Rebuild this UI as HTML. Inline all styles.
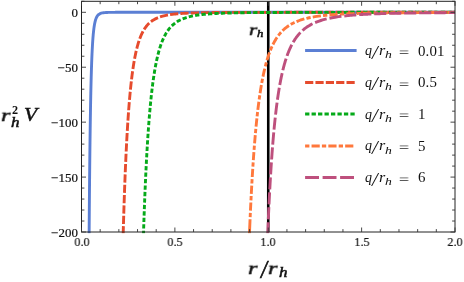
<!DOCTYPE html>
<html><head><meta charset="utf-8"><title>Chart</title><style>
html,body{margin:0;padding:0;background:#fff}
#w{position:relative;width:464px;height:282px;overflow:hidden;background:#fff;font-family:"Liberation Serif",serif;color:#111}
.t{position:absolute;white-space:nowrap;line-height:1;will-change:transform}
.yl{font-size:12.2px;text-align:right;width:60px;-webkit-text-stroke:0.2px #111;transform:scaleX(1.06);transform-origin:100% 50%}
.xl{font-size:12.8px;text-align:center;width:40px;-webkit-text-stroke:0.2px #111;transform:scaleX(0.95);transform-origin:50% 50%}
.lg{font-size:12.5px;font-style:italic}
.lg .n{font-style:normal}
.lg .s{font-size:8.8px;position:relative;top:2.2px}
.b{font-weight:bold;font-style:italic}

</style></head><body><div id="w">
<svg width="464" height="282" viewBox="0 0 464 282" style="position:absolute;left:0;top:0">
<defs><clipPath id="c"><rect x="81.5" y="1.3" width="373.5" height="232.0"/></clipPath></defs>
<line x1="268.25" y1="1.3" x2="268.25" y2="232.0" stroke="#000" stroke-width="2.6"/>
<g clip-path="url(#c)" fill="none" stroke-width="2.9" stroke-linejoin="round">
<path d="M89.13,233.50 L89.14,232.95 L89.14,232.41 L89.14,231.86 L89.15,231.32 L89.15,230.77 L89.16,230.22 L89.16,229.68 L89.16,229.13 L89.17,228.58 L89.17,228.04 L89.18,227.49 L89.18,226.95 L89.18,226.40 L89.19,225.85 L89.19,225.31 L89.20,224.76 L89.20,224.22 L89.21,223.67 L89.21,223.12 L89.21,222.58 L89.22,222.03 L89.22,221.48 L89.23,220.94 L89.23,220.39 L89.23,219.85 L89.24,219.30 L89.24,218.75 L89.25,218.21 L89.25,217.66 L89.26,217.12 L89.26,216.57 L89.26,216.02 L89.27,215.48 L89.27,214.93 L89.28,214.38 L89.28,213.84 L89.29,213.29 L89.29,212.75 L89.29,212.20 L89.30,211.65 L89.30,211.11 L89.31,210.56 L89.31,210.02 L89.32,209.47 L89.32,208.92 L89.33,208.38 L89.33,207.83 L89.33,207.29 L89.34,206.74 L89.34,206.19 L89.35,205.65 L89.35,205.10 L89.36,204.55 L89.36,204.01 L89.37,203.46 L89.37,202.92 L89.38,202.37 L89.38,201.82 L89.39,201.28 L89.39,200.73 L89.39,200.19 L89.40,199.64 L89.40,199.09 L89.41,198.55 L89.41,198.00 L89.42,197.45 L89.42,196.91 L89.43,196.36 L89.43,195.82 L89.44,195.27 L89.44,194.72 L89.45,194.18 L89.45,193.63 L89.46,193.09 L89.46,192.54 L89.47,191.99 L89.47,191.45 L89.48,190.90 L89.48,190.35 L89.49,189.81 L89.49,189.26 L89.50,188.72 L89.50,188.17 L89.51,187.62 L89.51,187.08 L89.52,186.53 L89.52,185.99 L89.53,185.44 L89.53,184.89 L89.54,184.35 L89.54,183.80 L89.55,183.25 L89.55,182.71 L89.56,182.16 L89.56,181.62 L89.57,181.07 L89.57,180.52 L89.58,179.98 L89.58,179.43 L89.59,178.89 L89.60,178.34 L89.60,177.79 L89.61,177.25 L89.61,176.70 L89.62,176.15 L89.62,175.61 L89.63,175.06 L89.63,174.52 L89.64,173.97 L89.64,173.42 L89.65,172.88 L89.66,172.33 L89.66,171.79 L89.67,171.24 L89.67,170.69 L89.68,170.15 L89.68,169.60 L89.69,169.05 L89.70,168.51 L89.70,167.96 L89.71,167.42 L89.71,166.87 L89.72,166.32 L89.72,165.78 L89.73,165.23 L89.74,164.69 L89.74,164.14 L89.75,163.59 L89.75,163.05 L89.76,162.50 L89.77,161.95 L89.77,161.41 L89.78,160.86 L89.78,160.32 L89.79,159.77 L89.80,159.22 L89.80,158.68 L89.81,158.13 L89.81,157.59 L89.82,157.04 L89.83,156.49 L89.83,155.95 L89.84,155.40 L89.85,154.86 L89.85,154.31 L89.86,153.76 L89.87,153.22 L89.87,152.67 L89.88,152.12 L89.88,151.58 L89.89,151.03 L89.90,150.49 L89.90,149.94 L89.91,149.39 L89.92,148.85 L89.92,148.30 L89.93,147.76 L89.94,147.21 L89.94,146.66 L89.95,146.12 L89.96,145.57 L89.96,145.02 L89.97,144.48 L89.98,143.93 L89.99,143.39 L89.99,142.84 L90.00,142.29 L90.01,141.75 L90.01,141.20 L90.02,140.66 L90.03,140.11 L90.03,139.56 L90.04,139.02 L90.05,138.47 L90.06,137.92 L90.06,137.38 L90.07,136.83 L90.08,136.29 L90.09,135.74 L90.09,135.19 L90.10,134.65 L90.11,134.10 L90.12,133.56 L90.12,133.01 L90.13,132.46 L90.14,131.92 L90.15,131.37 L90.15,130.82 L90.16,130.28 L90.17,129.73 L90.18,129.19 L90.19,128.64 L90.19,128.09 L90.20,127.55 L90.21,127.00 L90.22,126.46 L90.23,125.91 L90.23,125.36 L90.24,124.82 L90.25,124.27 L90.26,123.72 L90.27,123.18 L90.28,122.63 L90.28,122.09 L90.29,121.54 L90.30,120.99 L90.31,120.45 L90.32,119.90 L90.33,119.36 L90.34,118.81 L90.34,118.26 L90.35,117.72 L90.36,117.17 L90.37,116.62 L90.38,116.08 L90.39,115.53 L90.40,114.99 L90.41,114.44 L90.42,113.89 L90.43,113.35 L90.43,112.80 L90.44,112.26 L90.45,111.71 L90.46,111.16 L90.47,110.62 L90.48,110.07 L90.49,109.53 L90.50,108.98 L90.51,108.43 L90.52,107.89 L90.53,107.34 L90.54,106.79 L90.55,106.25 L90.56,105.70 L90.57,105.16 L90.58,104.61 L90.59,104.06 L90.60,103.52 L90.61,102.97 L90.62,102.43 L90.63,101.88 L90.64,101.33 L90.65,100.79 L90.66,100.24 L90.68,99.69 L90.69,99.15 L90.70,98.60 L90.71,98.06 L90.72,97.51 L90.73,96.96 L90.74,96.42 L90.75,95.87 L90.76,95.33 L90.78,94.78 L90.79,94.23 L90.80,93.69 L90.81,93.14 L90.82,92.59 L90.84,92.05 L90.85,91.50 L90.86,90.96 L90.87,90.41 L90.88,89.86 L90.90,89.32 L90.91,88.77 L90.92,88.23 L90.93,87.68 L90.95,87.13 L90.96,86.59 L90.97,86.04 L90.99,85.49 L91.00,84.95 L91.01,84.40 L91.03,83.86 L91.04,83.31 L91.05,82.76 L91.07,82.22 L91.08,81.67 L91.10,81.13 L91.11,80.58 L91.12,80.03 L91.14,79.49 L91.15,78.94 L91.17,78.39 L91.18,77.85 L91.20,77.30 L91.21,76.76 L91.23,76.21 L91.24,75.66 L91.26,75.12 L91.27,74.57 L91.29,74.03 L91.31,73.48 L91.32,72.93 L91.34,72.39 L91.36,71.84 L91.37,71.29 L91.39,70.75 L91.41,70.20 L91.42,69.66 L91.44,69.11 L91.46,68.56 L91.48,68.02 L91.49,67.47 L91.51,66.93 L91.53,66.38 L91.55,65.83 L91.57,65.29 L91.59,64.74 L91.61,64.19 L91.62,63.65 L91.64,63.10 L91.66,62.56 L91.68,62.01 L91.70,61.46 L91.73,60.92 L91.75,60.37 L91.77,59.83 L91.79,59.28 L91.81,58.73 L91.83,58.19 L91.85,57.64 L91.88,57.10 L91.90,56.55 L91.92,56.00 L91.95,55.46 L91.97,54.91 L92.00,54.36 L92.02,53.82 L92.04,53.27 L92.07,52.73 L92.10,52.18 L92.12,51.63 L92.15,51.09 L92.18,50.54 L92.20,50.00 L92.23,49.45 L92.26,48.90 L92.29,48.36 L92.32,47.81 L92.35,47.26 L92.38,46.72 L92.41,46.17 L92.44,45.63 L92.47,45.08 L92.50,44.53 L92.54,43.99 L92.57,43.44 L92.60,42.90 L92.64,42.35 L92.67,41.80 L92.71,41.26 L92.75,40.71 L92.79,40.16 L92.83,39.62 L92.87,39.07 L92.91,38.53 L92.95,37.98 L92.99,37.43 L93.04,36.89 L93.08,36.34 L93.13,35.80 L93.17,35.25 L93.22,34.70 L93.27,34.16 L93.32,33.61 L93.38,33.06 L93.43,32.52 L93.49,31.97 L93.54,31.43 L93.60,30.88 L93.67,30.33 L93.73,29.79 L93.80,29.24 L93.86,28.70 L93.94,28.15 L94.01,27.60 L94.09,27.06 L94.17,26.51 L94.25,25.96 L94.34,25.42 L94.43,24.87 L94.53,24.33 L94.63,23.78 L94.74,23.23 L94.85,22.69 L94.97,22.14 L95.10,21.60 L95.23,21.05 L95.38,20.50 L95.54,19.96 L95.71,19.41 L95.90,18.86 L96.10,18.32 L96.33,17.77 L96.59,17.23 L96.87,16.68 L97.21,16.13 L97.60,15.59 L98.80,14.39 L100.01,13.66 L101.22,13.21 L102.42,12.92 L103.63,12.73 L104.83,12.60 L106.04,12.52 L107.24,12.46 L108.45,12.42 L109.66,12.39 L110.86,12.37 L112.07,12.35 L113.27,12.34 L114.48,12.33 L115.69,12.32 L116.89,12.32 L118.10,12.32 L119.30,12.31 L120.51,12.31 L121.71,12.31 L122.92,12.31 L124.13,12.31 L125.33,12.30 L126.54,12.30 L127.74,12.30 L128.95,12.30 L130.15,12.30 L131.36,12.30 L132.57,12.30 L133.77,12.30 L134.98,12.30 L136.18,12.30 L137.39,12.30 L138.60,12.30 L139.80,12.30 L141.01,12.30 L142.21,12.30 L143.42,12.30 L144.62,12.30 L145.83,12.30 L147.04,12.30 L148.24,12.30 L149.45,12.30 L150.65,12.30 L151.86,12.30 L153.06,12.30 L154.27,12.30 L155.48,12.30 L156.68,12.30 L157.89,12.30 L159.09,12.30 L160.30,12.30 L161.51,12.30 L162.71,12.30 L163.92,12.30 L165.12,12.30 L166.33,12.30 L167.53,12.30 L168.74,12.30 L169.95,12.30 L171.15,12.30 L172.36,12.30 L173.56,12.30 L174.77,12.30 L175.97,12.30 L177.18,12.30 L178.39,12.30 L179.59,12.30 L180.80,12.30 L182.00,12.30 L183.21,12.30 L184.42,12.30 L185.62,12.30 L186.83,12.30 L188.03,12.30 L189.24,12.30 L190.44,12.30 L191.65,12.30 L192.86,12.30 L194.06,12.30 L195.27,12.30 L196.47,12.30 L197.68,12.30 L198.88,12.30 L200.09,12.30 L201.30,12.30 L202.50,12.30 L203.71,12.30 L204.91,12.30 L206.12,12.30 L207.32,12.30 L208.53,12.30 L209.74,12.30 L210.94,12.30 L212.15,12.30 L213.35,12.30 L214.56,12.30 L215.77,12.30 L216.97,12.30 L218.18,12.30 L219.38,12.30 L220.59,12.30 L221.79,12.30 L223.00,12.30 L224.21,12.30 L225.41,12.30 L226.62,12.30 L227.82,12.30 L229.03,12.30 L230.23,12.30 L231.44,12.30 L232.65,12.30 L233.85,12.30 L235.06,12.30 L236.26,12.30 L237.47,12.30 L238.68,12.30 L239.88,12.30 L241.09,12.30 L242.29,12.30 L243.50,12.30 L244.70,12.30 L245.91,12.30 L247.12,12.30 L248.32,12.30 L249.53,12.30 L250.73,12.30 L251.94,12.30 L253.14,12.30 L254.35,12.30 L255.56,12.30 L256.76,12.30 L257.97,12.30 L259.17,12.30 L260.38,12.30 L261.59,12.30 L262.79,12.30 L264.00,12.30 L265.20,12.30 L266.41,12.30 L267.61,12.30 L268.82,12.30 L270.03,12.30 L271.23,12.30 L272.44,12.30 L273.64,12.30 L274.85,12.30 L276.05,12.30 L277.26,12.30 L278.47,12.30 L279.67,12.30 L280.88,12.30 L282.08,12.30 L283.29,12.30 L284.50,12.30 L285.70,12.30 L286.91,12.30 L288.11,12.30 L289.32,12.30 L290.52,12.30 L291.73,12.30 L292.94,12.30 L294.14,12.30 L295.35,12.30 L296.55,12.30 L297.76,12.30 L298.96,12.30 L300.17,12.30 L301.38,12.30 L302.58,12.30 L303.79,12.30 L304.99,12.30 L306.20,12.30 L307.41,12.30 L308.61,12.30 L309.82,12.30 L311.02,12.30 L312.23,12.30 L313.43,12.30 L314.64,12.30 L315.85,12.30 L317.05,12.30 L318.26,12.30 L319.46,12.30 L320.67,12.30 L321.87,12.30 L323.08,12.30 L324.29,12.30 L325.49,12.30 L326.70,12.30 L327.90,12.30 L329.11,12.30 L330.31,12.30 L331.52,12.30 L332.73,12.30 L333.93,12.30 L335.14,12.30 L336.34,12.30 L337.55,12.30 L338.76,12.30 L339.96,12.30 L341.17,12.30 L342.37,12.30 L343.58,12.30 L344.78,12.30 L345.99,12.30 L347.20,12.30 L348.40,12.30 L349.61,12.30 L350.81,12.30 L352.02,12.30 L353.22,12.30 L354.43,12.30 L355.64,12.30 L356.84,12.30 L358.05,12.30 L359.25,12.30 L360.46,12.30 L361.67,12.30 L362.87,12.30 L364.08,12.30 L365.28,12.30 L366.49,12.30 L367.69,12.30 L368.90,12.30 L370.11,12.30 L371.31,12.30 L372.52,12.30 L373.72,12.30 L374.93,12.30 L376.13,12.30 L377.34,12.30 L378.55,12.30 L379.75,12.30 L380.96,12.30 L382.16,12.30 L383.37,12.30 L384.58,12.30 L385.78,12.30 L386.99,12.30 L388.19,12.30 L389.40,12.30 L390.60,12.30 L391.81,12.30 L393.02,12.30 L394.22,12.30 L395.43,12.30 L396.63,12.30 L397.84,12.30 L399.04,12.30 L400.25,12.30 L401.46,12.30 L402.66,12.30 L403.87,12.30 L405.07,12.30 L406.28,12.30 L407.49,12.30 L408.69,12.30 L409.90,12.30 L411.10,12.30 L412.31,12.30 L413.51,12.30 L414.72,12.30 L415.93,12.30 L417.13,12.30 L418.34,12.30 L419.54,12.30 L420.75,12.30 L421.95,12.30 L423.16,12.30 L424.37,12.30 L425.57,12.30 L426.78,12.30 L427.98,12.30 L429.19,12.30 L430.39,12.30 L431.60,12.30 L432.81,12.30 L434.01,12.30 L435.22,12.30 L436.42,12.30 L437.63,12.30 L438.84,12.30 L440.04,12.30 L441.25,12.30 L442.45,12.30 L443.66,12.30 L444.86,12.30 L446.07,12.30 L447.28,12.30 L448.48,12.30 L449.69,12.30 L450.89,12.30 L452.10,12.30 L453.30,12.30 L454.51,12.30 L455.72,12.30 L456.92,12.30 L458.13,12.30" stroke="#5B7FD4"/>
<path d="M123.19,233.50 L123.21,232.95 L123.22,232.41 L123.24,231.86 L123.26,231.32 L123.27,230.77 L123.29,230.22 L123.30,229.68 L123.32,229.13 L123.33,228.58 L123.35,228.04 L123.36,227.49 L123.38,226.95 L123.39,226.40 L123.41,225.85 L123.43,225.31 L123.44,224.76 L123.46,224.22 L123.47,223.67 L123.49,223.12 L123.51,222.58 L123.52,222.03 L123.54,221.48 L123.55,220.94 L123.57,220.39 L123.59,219.85 L123.60,219.30 L123.62,218.75 L123.64,218.21 L123.65,217.66 L123.67,217.12 L123.69,216.57 L123.70,216.02 L123.72,215.48 L123.74,214.93 L123.75,214.38 L123.77,213.84 L123.79,213.29 L123.80,212.75 L123.82,212.20 L123.84,211.65 L123.85,211.11 L123.87,210.56 L123.89,210.02 L123.91,209.47 L123.92,208.92 L123.94,208.38 L123.96,207.83 L123.98,207.29 L123.99,206.74 L124.01,206.19 L124.03,205.65 L124.05,205.10 L124.07,204.55 L124.08,204.01 L124.10,203.46 L124.12,202.92 L124.14,202.37 L124.16,201.82 L124.17,201.28 L124.19,200.73 L124.21,200.19 L124.23,199.64 L124.25,199.09 L124.27,198.55 L124.29,198.00 L124.30,197.45 L124.32,196.91 L124.34,196.36 L124.36,195.82 L124.38,195.27 L124.40,194.72 L124.42,194.18 L124.44,193.63 L124.46,193.09 L124.48,192.54 L124.50,191.99 L124.52,191.45 L124.53,190.90 L124.55,190.35 L124.57,189.81 L124.59,189.26 L124.61,188.72 L124.63,188.17 L124.65,187.62 L124.67,187.08 L124.69,186.53 L124.71,185.99 L124.73,185.44 L124.76,184.89 L124.78,184.35 L124.80,183.80 L124.82,183.25 L124.84,182.71 L124.86,182.16 L124.88,181.62 L124.90,181.07 L124.92,180.52 L124.94,179.98 L124.96,179.43 L124.99,178.89 L125.01,178.34 L125.03,177.79 L125.05,177.25 L125.07,176.70 L125.09,176.15 L125.12,175.61 L125.14,175.06 L125.16,174.52 L125.18,173.97 L125.20,173.42 L125.23,172.88 L125.25,172.33 L125.27,171.79 L125.29,171.24 L125.32,170.69 L125.34,170.15 L125.36,169.60 L125.38,169.05 L125.41,168.51 L125.43,167.96 L125.45,167.42 L125.48,166.87 L125.50,166.32 L125.52,165.78 L125.55,165.23 L125.57,164.69 L125.60,164.14 L125.62,163.59 L125.64,163.05 L125.67,162.50 L125.69,161.95 L125.72,161.41 L125.74,160.86 L125.77,160.32 L125.79,159.77 L125.82,159.22 L125.84,158.68 L125.87,158.13 L125.89,157.59 L125.92,157.04 L125.94,156.49 L125.97,155.95 L125.99,155.40 L126.02,154.86 L126.04,154.31 L126.07,153.76 L126.10,153.22 L126.12,152.67 L126.15,152.12 L126.18,151.58 L126.20,151.03 L126.23,150.49 L126.26,149.94 L126.28,149.39 L126.31,148.85 L126.34,148.30 L126.37,147.76 L126.39,147.21 L126.42,146.66 L126.45,146.12 L126.48,145.57 L126.51,145.02 L126.53,144.48 L126.56,143.93 L126.59,143.39 L126.62,142.84 L126.65,142.29 L126.68,141.75 L126.71,141.20 L126.74,140.66 L126.76,140.11 L126.79,139.56 L126.82,139.02 L126.85,138.47 L126.88,137.92 L126.91,137.38 L126.95,136.83 L126.98,136.29 L127.01,135.74 L127.04,135.19 L127.07,134.65 L127.10,134.10 L127.13,133.56 L127.16,133.01 L127.19,132.46 L127.23,131.92 L127.26,131.37 L127.29,130.82 L127.32,130.28 L127.36,129.73 L127.39,129.19 L127.42,128.64 L127.46,128.09 L127.49,127.55 L127.52,127.00 L127.56,126.46 L127.59,125.91 L127.62,125.36 L127.66,124.82 L127.69,124.27 L127.73,123.72 L127.76,123.18 L127.80,122.63 L127.83,122.09 L127.87,121.54 L127.91,120.99 L127.94,120.45 L127.98,119.90 L128.01,119.36 L128.05,118.81 L128.09,118.26 L128.13,117.72 L128.16,117.17 L128.20,116.62 L128.24,116.08 L128.28,115.53 L128.32,114.99 L128.35,114.44 L128.39,113.89 L128.43,113.35 L128.47,112.80 L128.51,112.26 L128.55,111.71 L128.59,111.16 L128.63,110.62 L128.67,110.07 L128.71,109.53 L128.76,108.98 L128.80,108.43 L128.84,107.89 L128.88,107.34 L128.92,106.79 L128.97,106.25 L129.01,105.70 L129.05,105.16 L129.10,104.61 L129.14,104.06 L129.19,103.52 L129.23,102.97 L129.28,102.43 L129.32,101.88 L129.37,101.33 L129.41,100.79 L129.46,100.24 L129.51,99.69 L129.55,99.15 L129.60,98.60 L129.65,98.06 L129.70,97.51 L129.75,96.96 L129.80,96.42 L129.84,95.87 L129.89,95.33 L129.94,94.78 L130.00,94.23 L130.05,93.69 L130.10,93.14 L130.15,92.59 L130.20,92.05 L130.25,91.50 L130.31,90.96 L130.36,90.41 L130.42,89.86 L130.47,89.32 L130.53,88.77 L130.58,88.23 L130.64,87.68 L130.69,87.13 L130.75,86.59 L130.81,86.04 L130.87,85.49 L130.92,84.95 L130.98,84.40 L131.04,83.86 L131.10,83.31 L131.16,82.76 L131.23,82.22 L131.29,81.67 L131.35,81.13 L131.41,80.58 L131.48,80.03 L131.54,79.49 L131.61,78.94 L131.67,78.39 L131.74,77.85 L131.81,77.30 L131.87,76.76 L131.94,76.21 L132.01,75.66 L132.08,75.12 L132.15,74.57 L132.22,74.03 L132.29,73.48 L132.37,72.93 L132.44,72.39 L132.52,71.84 L132.59,71.29 L132.67,70.75 L132.74,70.20 L132.82,69.66 L132.90,69.11 L132.98,68.56 L133.06,68.02 L133.14,67.47 L133.23,66.93 L133.31,66.38 L133.39,65.83 L133.48,65.29 L133.57,64.74 L133.65,64.19 L133.74,63.65 L133.83,63.10 L133.93,62.56 L134.02,62.01 L134.11,61.46 L134.21,60.92 L134.30,60.37 L134.40,59.83 L134.50,59.28 L134.60,58.73 L134.70,58.19 L134.81,57.64 L134.91,57.10 L135.02,56.55 L135.13,56.00 L135.24,55.46 L135.35,54.91 L135.46,54.36 L135.58,53.82 L135.69,53.27 L135.81,52.73 L135.93,52.18 L136.06,51.63 L136.18,51.09 L136.31,50.54 L136.44,50.00 L136.57,49.45 L136.70,48.90 L136.84,48.36 L136.98,47.81 L137.12,47.26 L137.26,46.72 L137.41,46.17 L137.56,45.63 L137.71,45.08 L137.87,44.53 L138.03,43.99 L138.19,43.44 L138.36,42.90 L138.53,42.35 L138.70,41.80 L138.88,41.26 L139.06,40.71 L139.24,40.16 L139.43,39.62 L139.63,39.07 L139.83,38.53 L140.03,37.98 L140.24,37.43 L140.46,36.89 L140.68,36.34 L140.91,35.80 L141.14,35.25 L141.38,34.70 L141.63,34.16 L141.89,33.61 L142.15,33.06 L142.42,32.52 L142.71,31.97 L143.00,31.43 L143.30,30.88 L143.61,30.33 L143.93,29.79 L144.27,29.24 L144.62,28.70 L144.98,28.15 L145.36,27.60 L145.76,27.06 L146.17,26.51 L146.60,25.96 L147.06,25.42 L147.54,24.87 L148.04,24.33 L148.57,23.78 L149.14,23.23 L149.73,22.69 L150.37,22.14 L151.05,21.60 L151.78,21.05 L152.57,20.50 L153.43,19.96 L154.36,19.41 L155.38,18.86 L156.50,18.32 L157.76,17.77 L159.18,17.23 L160.80,16.68 L162.68,16.13 L164.92,15.59 L165.90,15.38 L166.88,15.18 L167.86,15.00 L168.84,14.84 L169.82,14.68 L170.80,14.54 L171.78,14.41 L172.76,14.28 L173.75,14.17 L174.73,14.06 L175.71,13.96 L176.69,13.87 L177.67,13.78 L178.65,13.70 L179.63,13.62 L180.61,13.55 L181.59,13.49 L182.57,13.42 L183.55,13.36 L184.53,13.31 L185.51,13.26 L186.49,13.21 L187.47,13.16 L188.45,13.12 L189.44,13.08 L190.42,13.04 L191.40,13.01 L192.38,12.97 L193.36,12.94 L194.34,12.91 L195.32,12.88 L196.30,12.86 L197.28,12.83 L198.26,12.81 L199.24,12.78 L200.22,12.76 L201.20,12.74 L202.18,12.72 L203.16,12.70 L204.14,12.69 L205.13,12.67 L206.11,12.65 L207.09,12.64 L208.07,12.63 L209.05,12.61 L210.03,12.60 L211.01,12.59 L211.99,12.58 L212.97,12.56 L213.95,12.55 L214.93,12.54 L215.91,12.53 L216.89,12.53 L217.87,12.52 L218.85,12.51 L219.83,12.50 L220.82,12.49 L221.80,12.49 L222.78,12.48 L223.76,12.47 L224.74,12.47 L225.72,12.46 L226.70,12.45 L227.68,12.45 L228.66,12.44 L229.64,12.44 L230.62,12.43 L231.60,12.43 L232.58,12.42 L233.56,12.42 L234.54,12.42 L235.52,12.41 L236.51,12.41 L237.49,12.40 L238.47,12.40 L239.45,12.40 L240.43,12.39 L241.41,12.39 L242.39,12.39 L243.37,12.39 L244.35,12.38 L245.33,12.38 L246.31,12.38 L247.29,12.37 L248.27,12.37 L249.25,12.37 L250.23,12.37 L251.21,12.37 L252.20,12.36 L253.18,12.36 L254.16,12.36 L255.14,12.36 L256.12,12.36 L257.10,12.35 L258.08,12.35 L259.06,12.35 L260.04,12.35 L261.02,12.35 L262.00,12.35 L262.98,12.35 L263.96,12.34 L264.94,12.34 L265.92,12.34 L266.91,12.34 L267.89,12.34 L268.87,12.34 L269.85,12.34 L270.83,12.34 L271.81,12.34 L272.79,12.33 L273.77,12.33 L274.75,12.33 L275.73,12.33 L276.71,12.33 L277.69,12.33 L278.67,12.33 L279.65,12.33 L280.63,12.33 L281.61,12.33 L282.60,12.33 L283.58,12.33 L284.56,12.33 L285.54,12.32 L286.52,12.32 L287.50,12.32 L288.48,12.32 L289.46,12.32 L290.44,12.32 L291.42,12.32 L292.40,12.32 L293.38,12.32 L294.36,12.32 L295.34,12.32 L296.32,12.32 L297.30,12.32 L298.29,12.32 L299.27,12.32 L300.25,12.32 L301.23,12.32 L302.21,12.32 L303.19,12.32 L304.17,12.32 L305.15,12.31 L306.13,12.31 L307.11,12.31 L308.09,12.31 L309.07,12.31 L310.05,12.31 L311.03,12.31 L312.01,12.31 L312.99,12.31 L313.98,12.31 L314.96,12.31 L315.94,12.31 L316.92,12.31 L317.90,12.31 L318.88,12.31 L319.86,12.31 L320.84,12.31 L321.82,12.31 L322.80,12.31 L323.78,12.31 L324.76,12.31 L325.74,12.31 L326.72,12.31 L327.70,12.31 L328.68,12.31 L329.67,12.31 L330.65,12.31 L331.63,12.31 L332.61,12.31 L333.59,12.31 L334.57,12.31 L335.55,12.31 L336.53,12.31 L337.51,12.31 L338.49,12.31 L339.47,12.31 L340.45,12.31 L341.43,12.31 L342.41,12.31 L343.39,12.31 L344.37,12.31 L345.36,12.31 L346.34,12.31 L347.32,12.31 L348.30,12.31 L349.28,12.31 L350.26,12.31 L351.24,12.31 L352.22,12.31 L353.20,12.31 L354.18,12.31 L355.16,12.31 L356.14,12.30 L357.12,12.30 L358.10,12.30 L359.08,12.30 L360.06,12.30 L361.05,12.30 L362.03,12.30 L363.01,12.30 L363.99,12.30 L364.97,12.30 L365.95,12.30 L366.93,12.30 L367.91,12.30 L368.89,12.30 L369.87,12.30 L370.85,12.30 L371.83,12.30 L372.81,12.30 L373.79,12.30 L374.77,12.30 L375.76,12.30 L376.74,12.30 L377.72,12.30 L378.70,12.30 L379.68,12.30 L380.66,12.30 L381.64,12.30 L382.62,12.30 L383.60,12.30 L384.58,12.30 L385.56,12.30 L386.54,12.30 L387.52,12.30 L388.50,12.30 L389.48,12.30 L390.46,12.30 L391.45,12.30 L392.43,12.30 L393.41,12.30 L394.39,12.30 L395.37,12.30 L396.35,12.30 L397.33,12.30 L398.31,12.30 L399.29,12.30 L400.27,12.30 L401.25,12.30 L402.23,12.30 L403.21,12.30 L404.19,12.30 L405.17,12.30 L406.15,12.30 L407.14,12.30 L408.12,12.30 L409.10,12.30 L410.08,12.30 L411.06,12.30 L412.04,12.30 L413.02,12.30 L414.00,12.30 L414.98,12.30 L415.96,12.30 L416.94,12.30 L417.92,12.30 L418.90,12.30 L419.88,12.30 L420.86,12.30 L421.84,12.30 L422.83,12.30 L423.81,12.30 L424.79,12.30 L425.77,12.30 L426.75,12.30 L427.73,12.30 L428.71,12.30 L429.69,12.30 L430.67,12.30 L431.65,12.30 L432.63,12.30 L433.61,12.30 L434.59,12.30 L435.57,12.30 L436.55,12.30 L437.53,12.30 L438.52,12.30 L439.50,12.30 L440.48,12.30 L441.46,12.30 L442.44,12.30 L443.42,12.30 L444.40,12.30 L445.38,12.30 L446.36,12.30 L447.34,12.30 L448.32,12.30 L449.30,12.30 L450.28,12.30 L451.26,12.30 L452.24,12.30 L453.22,12.30 L454.21,12.30 L455.19,12.30 L456.17,12.30 L457.15,12.30 L458.13,12.30" stroke="#E64B2D" stroke-dasharray="8.2 2.15" stroke-dashoffset="0.8"/>
<path d="M143.49,233.50 L143.51,232.95 L143.53,232.41 L143.55,231.86 L143.56,231.32 L143.58,230.77 L143.60,230.22 L143.62,229.68 L143.64,229.13 L143.65,228.58 L143.67,228.04 L143.69,227.49 L143.71,226.95 L143.73,226.40 L143.74,225.85 L143.76,225.31 L143.78,224.76 L143.80,224.22 L143.82,223.67 L143.84,223.12 L143.85,222.58 L143.87,222.03 L143.89,221.48 L143.91,220.94 L143.93,220.39 L143.95,219.85 L143.97,219.30 L143.99,218.75 L144.00,218.21 L144.02,217.66 L144.04,217.12 L144.06,216.57 L144.08,216.02 L144.10,215.48 L144.12,214.93 L144.14,214.38 L144.16,213.84 L144.18,213.29 L144.20,212.75 L144.22,212.20 L144.24,211.65 L144.26,211.11 L144.28,210.56 L144.30,210.02 L144.32,209.47 L144.34,208.92 L144.36,208.38 L144.38,207.83 L144.40,207.29 L144.42,206.74 L144.44,206.19 L144.46,205.65 L144.48,205.10 L144.50,204.55 L144.52,204.01 L144.54,203.46 L144.56,202.92 L144.59,202.37 L144.61,201.82 L144.63,201.28 L144.65,200.73 L144.67,200.19 L144.69,199.64 L144.71,199.09 L144.74,198.55 L144.76,198.00 L144.78,197.45 L144.80,196.91 L144.82,196.36 L144.84,195.82 L144.87,195.27 L144.89,194.72 L144.91,194.18 L144.93,193.63 L144.96,193.09 L144.98,192.54 L145.00,191.99 L145.02,191.45 L145.05,190.90 L145.07,190.35 L145.09,189.81 L145.11,189.26 L145.14,188.72 L145.16,188.17 L145.18,187.62 L145.21,187.08 L145.23,186.53 L145.26,185.99 L145.28,185.44 L145.30,184.89 L145.33,184.35 L145.35,183.80 L145.37,183.25 L145.40,182.71 L145.42,182.16 L145.45,181.62 L145.47,181.07 L145.50,180.52 L145.52,179.98 L145.55,179.43 L145.57,178.89 L145.60,178.34 L145.62,177.79 L145.65,177.25 L145.67,176.70 L145.70,176.15 L145.72,175.61 L145.75,175.06 L145.77,174.52 L145.80,173.97 L145.82,173.42 L145.85,172.88 L145.88,172.33 L145.90,171.79 L145.93,171.24 L145.96,170.69 L145.98,170.15 L146.01,169.60 L146.04,169.05 L146.06,168.51 L146.09,167.96 L146.12,167.42 L146.14,166.87 L146.17,166.32 L146.20,165.78 L146.23,165.23 L146.25,164.69 L146.28,164.14 L146.31,163.59 L146.34,163.05 L146.37,162.50 L146.40,161.95 L146.42,161.41 L146.45,160.86 L146.48,160.32 L146.51,159.77 L146.54,159.22 L146.57,158.68 L146.60,158.13 L146.63,157.59 L146.66,157.04 L146.69,156.49 L146.72,155.95 L146.75,155.40 L146.78,154.86 L146.81,154.31 L146.84,153.76 L146.87,153.22 L146.90,152.67 L146.93,152.12 L146.96,151.58 L146.99,151.03 L147.02,150.49 L147.06,149.94 L147.09,149.39 L147.12,148.85 L147.15,148.30 L147.18,147.76 L147.22,147.21 L147.25,146.66 L147.28,146.12 L147.31,145.57 L147.35,145.02 L147.38,144.48 L147.41,143.93 L147.45,143.39 L147.48,142.84 L147.51,142.29 L147.55,141.75 L147.58,141.20 L147.62,140.66 L147.65,140.11 L147.69,139.56 L147.72,139.02 L147.76,138.47 L147.79,137.92 L147.83,137.38 L147.86,136.83 L147.90,136.29 L147.94,135.74 L147.97,135.19 L148.01,134.65 L148.05,134.10 L148.08,133.56 L148.12,133.01 L148.16,132.46 L148.20,131.92 L148.23,131.37 L148.27,130.82 L148.31,130.28 L148.35,129.73 L148.39,129.19 L148.43,128.64 L148.46,128.09 L148.50,127.55 L148.54,127.00 L148.58,126.46 L148.62,125.91 L148.66,125.36 L148.70,124.82 L148.75,124.27 L148.79,123.72 L148.83,123.18 L148.87,122.63 L148.91,122.09 L148.95,121.54 L149.00,120.99 L149.04,120.45 L149.08,119.90 L149.12,119.36 L149.17,118.81 L149.21,118.26 L149.26,117.72 L149.30,117.17 L149.34,116.62 L149.39,116.08 L149.43,115.53 L149.48,114.99 L149.53,114.44 L149.57,113.89 L149.62,113.35 L149.67,112.80 L149.71,112.26 L149.76,111.71 L149.81,111.16 L149.86,110.62 L149.90,110.07 L149.95,109.53 L150.00,108.98 L150.05,108.43 L150.10,107.89 L150.15,107.34 L150.20,106.79 L150.25,106.25 L150.30,105.70 L150.36,105.16 L150.41,104.61 L150.46,104.06 L150.51,103.52 L150.57,102.97 L150.62,102.43 L150.67,101.88 L150.73,101.33 L150.78,100.79 L150.84,100.24 L150.89,99.69 L150.95,99.15 L151.01,98.60 L151.06,98.06 L151.12,97.51 L151.18,96.96 L151.24,96.42 L151.29,95.87 L151.35,95.33 L151.41,94.78 L151.47,94.23 L151.53,93.69 L151.60,93.14 L151.66,92.59 L151.72,92.05 L151.78,91.50 L151.85,90.96 L151.91,90.41 L151.97,89.86 L152.04,89.32 L152.11,88.77 L152.17,88.23 L152.24,87.68 L152.31,87.13 L152.37,86.59 L152.44,86.04 L152.51,85.49 L152.58,84.95 L152.65,84.40 L152.72,83.86 L152.80,83.31 L152.87,82.76 L152.94,82.22 L153.02,81.67 L153.09,81.13 L153.17,80.58 L153.24,80.03 L153.32,79.49 L153.40,78.94 L153.48,78.39 L153.56,77.85 L153.64,77.30 L153.72,76.76 L153.80,76.21 L153.88,75.66 L153.97,75.12 L154.05,74.57 L154.14,74.03 L154.22,73.48 L154.31,72.93 L154.40,72.39 L154.49,71.84 L154.58,71.29 L154.67,70.75 L154.76,70.20 L154.86,69.66 L154.95,69.11 L155.05,68.56 L155.14,68.02 L155.24,67.47 L155.34,66.93 L155.44,66.38 L155.54,65.83 L155.65,65.29 L155.75,64.74 L155.86,64.19 L155.97,63.65 L156.07,63.10 L156.19,62.56 L156.30,62.01 L156.41,61.46 L156.53,60.92 L156.64,60.37 L156.76,59.83 L156.88,59.28 L157.00,58.73 L157.12,58.19 L157.25,57.64 L157.38,57.10 L157.51,56.55 L157.64,56.00 L157.77,55.46 L157.91,54.91 L158.04,54.36 L158.18,53.82 L158.32,53.27 L158.47,52.73 L158.61,52.18 L158.76,51.63 L158.92,51.09 L159.07,50.54 L159.23,50.00 L159.39,49.45 L159.55,48.90 L159.72,48.36 L159.88,47.81 L160.06,47.26 L160.23,46.72 L160.41,46.17 L160.59,45.63 L160.78,45.08 L160.97,44.53 L161.17,43.99 L161.36,43.44 L161.57,42.90 L161.77,42.35 L161.99,41.80 L162.20,41.26 L162.42,40.71 L162.65,40.16 L162.88,39.62 L163.12,39.07 L163.37,38.53 L163.62,37.98 L163.88,37.43 L164.14,36.89 L164.41,36.34 L164.69,35.80 L164.98,35.25 L165.28,34.70 L165.58,34.16 L165.90,33.61 L166.22,33.06 L166.56,32.52 L166.91,31.97 L167.26,31.43 L167.64,30.88 L168.02,30.33 L168.42,29.79 L168.84,29.24 L169.27,28.70 L169.72,28.15 L170.19,27.60 L170.68,27.06 L171.19,26.51 L171.73,25.96 L172.30,25.42 L172.89,24.87 L173.52,24.33 L174.18,23.78 L174.89,23.23 L175.63,22.69 L176.43,22.14 L177.28,21.60 L178.20,21.05 L179.18,20.50 L180.26,19.96 L181.42,19.41 L182.71,18.86 L184.13,18.32 L185.71,17.77 L187.50,17.23 L189.55,16.68 L191.94,16.13 L194.78,15.59 L195.66,15.44 L196.54,15.30 L197.42,15.16 L198.30,15.03 L199.18,14.91 L200.06,14.80 L200.94,14.69 L201.82,14.59 L202.70,14.49 L203.59,14.40 L204.47,14.31 L205.35,14.23 L206.23,14.15 L207.11,14.08 L207.99,14.00 L208.87,13.94 L209.75,13.87 L210.63,13.81 L211.51,13.75 L212.39,13.69 L213.27,13.64 L214.15,13.59 L215.04,13.54 L215.92,13.49 L216.80,13.45 L217.68,13.41 L218.56,13.37 L219.44,13.33 L220.32,13.29 L221.20,13.26 L222.08,13.22 L222.96,13.19 L223.84,13.16 L224.72,13.13 L225.60,13.10 L226.49,13.07 L227.37,13.05 L228.25,13.02 L229.13,13.00 L230.01,12.97 L230.89,12.95 L231.77,12.93 L232.65,12.91 L233.53,12.89 L234.41,12.87 L235.29,12.85 L236.17,12.83 L237.05,12.82 L237.94,12.80 L238.82,12.78 L239.70,12.77 L240.58,12.75 L241.46,12.74 L242.34,12.73 L243.22,12.71 L244.10,12.70 L244.98,12.69 L245.86,12.68 L246.74,12.67 L247.62,12.66 L248.50,12.65 L249.39,12.64 L250.27,12.63 L251.15,12.62 L252.03,12.61 L252.91,12.60 L253.79,12.59 L254.67,12.58 L255.55,12.57 L256.43,12.57 L257.31,12.56 L258.19,12.55 L259.07,12.55 L259.95,12.54 L260.84,12.53 L261.72,12.53 L262.60,12.52 L263.48,12.51 L264.36,12.51 L265.24,12.50 L266.12,12.50 L267.00,12.49 L267.88,12.49 L268.76,12.48 L269.64,12.48 L270.52,12.47 L271.40,12.47 L272.29,12.46 L273.17,12.46 L274.05,12.46 L274.93,12.45 L275.81,12.45 L276.69,12.44 L277.57,12.44 L278.45,12.44 L279.33,12.43 L280.21,12.43 L281.09,12.43 L281.97,12.42 L282.85,12.42 L283.74,12.42 L284.62,12.42 L285.50,12.41 L286.38,12.41 L287.26,12.41 L288.14,12.41 L289.02,12.40 L289.90,12.40 L290.78,12.40 L291.66,12.40 L292.54,12.39 L293.42,12.39 L294.30,12.39 L295.19,12.39 L296.07,12.39 L296.95,12.38 L297.83,12.38 L298.71,12.38 L299.59,12.38 L300.47,12.38 L301.35,12.38 L302.23,12.37 L303.11,12.37 L303.99,12.37 L304.87,12.37 L305.75,12.37 L306.64,12.37 L307.52,12.36 L308.40,12.36 L309.28,12.36 L310.16,12.36 L311.04,12.36 L311.92,12.36 L312.80,12.36 L313.68,12.36 L314.56,12.35 L315.44,12.35 L316.32,12.35 L317.20,12.35 L318.09,12.35 L318.97,12.35 L319.85,12.35 L320.73,12.35 L321.61,12.35 L322.49,12.35 L323.37,12.34 L324.25,12.34 L325.13,12.34 L326.01,12.34 L326.89,12.34 L327.77,12.34 L328.65,12.34 L329.54,12.34 L330.42,12.34 L331.30,12.34 L332.18,12.34 L333.06,12.34 L333.94,12.34 L334.82,12.33 L335.70,12.33 L336.58,12.33 L337.46,12.33 L338.34,12.33 L339.22,12.33 L340.10,12.33 L340.99,12.33 L341.87,12.33 L342.75,12.33 L343.63,12.33 L344.51,12.33 L345.39,12.33 L346.27,12.33 L347.15,12.33 L348.03,12.33 L348.91,12.33 L349.79,12.33 L350.67,12.32 L351.55,12.32 L352.44,12.32 L353.32,12.32 L354.20,12.32 L355.08,12.32 L355.96,12.32 L356.84,12.32 L357.72,12.32 L358.60,12.32 L359.48,12.32 L360.36,12.32 L361.24,12.32 L362.12,12.32 L363.00,12.32 L363.89,12.32 L364.77,12.32 L365.65,12.32 L366.53,12.32 L367.41,12.32 L368.29,12.32 L369.17,12.32 L370.05,12.32 L370.93,12.32 L371.81,12.32 L372.69,12.32 L373.57,12.32 L374.45,12.32 L375.34,12.32 L376.22,12.32 L377.10,12.31 L377.98,12.31 L378.86,12.31 L379.74,12.31 L380.62,12.31 L381.50,12.31 L382.38,12.31 L383.26,12.31 L384.14,12.31 L385.02,12.31 L385.90,12.31 L386.79,12.31 L387.67,12.31 L388.55,12.31 L389.43,12.31 L390.31,12.31 L391.19,12.31 L392.07,12.31 L392.95,12.31 L393.83,12.31 L394.71,12.31 L395.59,12.31 L396.47,12.31 L397.35,12.31 L398.24,12.31 L399.12,12.31 L400.00,12.31 L400.88,12.31 L401.76,12.31 L402.64,12.31 L403.52,12.31 L404.40,12.31 L405.28,12.31 L406.16,12.31 L407.04,12.31 L407.92,12.31 L408.80,12.31 L409.69,12.31 L410.57,12.31 L411.45,12.31 L412.33,12.31 L413.21,12.31 L414.09,12.31 L414.97,12.31 L415.85,12.31 L416.73,12.31 L417.61,12.31 L418.49,12.31 L419.37,12.31 L420.25,12.31 L421.14,12.31 L422.02,12.31 L422.90,12.31 L423.78,12.31 L424.66,12.31 L425.54,12.31 L426.42,12.31 L427.30,12.31 L428.18,12.31 L429.06,12.31 L429.94,12.31 L430.82,12.31 L431.70,12.31 L432.59,12.31 L433.47,12.31 L434.35,12.31 L435.23,12.31 L436.11,12.31 L436.99,12.31 L437.87,12.31 L438.75,12.31 L439.63,12.31 L440.51,12.31 L441.39,12.31 L442.27,12.31 L443.15,12.31 L444.04,12.30 L444.92,12.30 L445.80,12.30 L446.68,12.30 L447.56,12.30 L448.44,12.30 L449.32,12.30 L450.20,12.30 L451.08,12.30 L451.96,12.30 L452.84,12.30 L453.72,12.30 L454.60,12.30 L455.49,12.30 L456.37,12.30 L457.25,12.30 L458.13,12.30" stroke="#05AA19" stroke-dasharray="4.3 2.17" stroke-dashoffset="1.5"/>
<path d="M249.46,233.50 L249.48,232.95 L249.50,232.41 L249.52,231.86 L249.55,231.32 L249.57,230.77 L249.59,230.22 L249.61,229.68 L249.64,229.13 L249.66,228.58 L249.68,228.04 L249.71,227.49 L249.73,226.95 L249.75,226.40 L249.77,225.85 L249.80,225.31 L249.82,224.76 L249.85,224.22 L249.87,223.67 L249.89,223.12 L249.92,222.58 L249.94,222.03 L249.96,221.48 L249.99,220.94 L250.01,220.39 L250.04,219.85 L250.06,219.30" stroke="#FF783C"/>
<path d="M250.06,219.30 L250.08,218.75 L250.11,218.21 L250.13,217.66 L250.16,217.12 L250.18,216.57 L250.21,216.02 L250.23,215.48 L250.26,214.93 L250.28,214.38 L250.31,213.84 L250.33,213.29 L250.36,212.75 L250.38,212.20 L250.41,211.65 L250.43,211.11 L250.46,210.56 L250.49,210.02 L250.51,209.47 L250.54,208.92 L250.56,208.38 L250.59,207.83 L250.62,207.29 L250.64,206.74 L250.67,206.19 L250.70,205.65 L250.72,205.10 L250.75,204.55 L250.78,204.01 L250.80,203.46 L250.83,202.92 L250.86,202.37 L250.88,201.82 L250.91,201.28 L250.94,200.73 L250.97,200.19 L250.99,199.64 L251.02,199.09 L251.05,198.55 L251.08,198.00 L251.10,197.45 L251.13,196.91 L251.16,196.36 L251.19,195.82 L251.22,195.27 L251.25,194.72 L251.28,194.18 L251.30,193.63 L251.33,193.09 L251.36,192.54 L251.39,191.99 L251.42,191.45 L251.45,190.90 L251.48,190.35 L251.51,189.81 L251.54,189.26 L251.57,188.72 L251.60,188.17 L251.63,187.62 L251.66,187.08 L251.69,186.53 L251.72,185.99 L251.75,185.44 L251.78,184.89 L251.81,184.35 L251.84,183.80 L251.87,183.25 L251.91,182.71 L251.94,182.16 L251.97,181.62 L252.00,181.07 L252.03,180.52 L252.06,179.98 L252.10,179.43 L252.13,178.89 L252.16,178.34 L252.19,177.79 L252.23,177.25 L252.26,176.70 L252.29,176.15 L252.32,175.61 L252.36,175.06 L252.39,174.52 L252.42,173.97 L252.46,173.42 L252.49,172.88 L252.53,172.33 L252.56,171.79 L252.59,171.24 L252.63,170.69 L252.66,170.15 L252.70,169.60 L252.73,169.05 L252.77,168.51 L252.80,167.96 L252.84,167.42 L252.87,166.87 L252.91,166.32 L252.94,165.78 L252.98,165.23 L253.02,164.69 L253.05,164.14 L253.09,163.59 L253.13,163.05 L253.16,162.50 L253.20,161.95 L253.24,161.41 L253.27,160.86 L253.31,160.32 L253.35,159.77 L253.39,159.22 L253.43,158.68 L253.46,158.13 L253.50,157.59 L253.54,157.04 L253.58,156.49 L253.62,155.95 L253.66,155.40 L253.70,154.86 L253.74,154.31 L253.78,153.76 L253.82,153.22 L253.86,152.67 L253.90,152.12 L253.94,151.58 L253.98,151.03 L254.02,150.49 L254.06,149.94 L254.10,149.39 L254.14,148.85 L254.19,148.30 L254.23,147.76 L254.27,147.21 L254.31,146.66 L254.36,146.12 L254.40,145.57 L254.44,145.02 L254.49,144.48 L254.53,143.93 L254.57,143.39 L254.62,142.84 L254.66,142.29 L254.71,141.75 L254.75,141.20 L254.80,140.66 L254.84,140.11 L254.89,139.56 L254.93,139.02 L254.98,138.47 L255.03,137.92 L255.07,137.38 L255.12,136.83 L255.17,136.29 L255.22,135.74 L255.26,135.19 L255.31,134.65 L255.36,134.10 L255.41,133.56 L255.46,133.01 L255.51,132.46 L255.56,131.92 L255.61,131.37 L255.66,130.82 L255.71,130.28 L255.76,129.73 L255.81,129.19 L255.86,128.64 L255.91,128.09 L255.96,127.55 L256.01,127.00 L256.07,126.46 L256.12,125.91 L256.17,125.36 L256.23,124.82 L256.28,124.27 L256.34,123.72 L256.39,123.18 L256.44,122.63 L256.50,122.09 L256.56,121.54 L256.61,120.99 L256.67,120.45 L256.73,119.90 L256.78,119.36 L256.84,118.81 L256.90,118.26 L256.96,117.72 L257.01,117.17 L257.07,116.62 L257.13,116.08 L257.19,115.53 L257.25,114.99 L257.31,114.44 L257.38,113.89 L257.44,113.35 L257.50,112.80 L257.56,112.26 L257.62,111.71 L257.69,111.16 L257.75,110.62 L257.82,110.07 L257.88,109.53 L257.95,108.98 L258.01,108.43 L258.08,107.89 L258.14,107.34 L258.21,106.79 L258.28,106.25 L258.35,105.70 L258.42,105.16 L258.49,104.61 L258.56,104.06 L258.63,103.52 L258.70,102.97 L258.77,102.43 L258.84,101.88 L258.91,101.33 L258.99,100.79 L259.06,100.24 L259.13,99.69 L259.21,99.15 L259.28,98.60 L259.36,98.06 L259.44,97.51 L259.51,96.96 L259.59,96.42 L259.67,95.87 L259.75,95.33 L259.83,94.78 L259.91,94.23 L259.99,93.69 L260.08,93.14 L260.16,92.59 L260.24,92.05 L260.33,91.50 L260.41,90.96 L260.50,90.41 L260.58,89.86 L260.67,89.32 L260.76,88.77 L260.85,88.23 L260.94,87.68 L261.03,87.13 L261.12,86.59 L261.21,86.04 L261.31,85.49 L261.40,84.95 L261.50,84.40 L261.59,83.86 L261.69,83.31 L261.79,82.76 L261.89,82.22 L261.99,81.67 L262.09,81.13 L262.19,80.58 L262.29,80.03 L262.40,79.49 L262.50,78.94 L262.61,78.39 L262.72,77.85 L262.83,77.30 L262.94,76.76 L263.05,76.21 L263.16,75.66 L263.27,75.12 L263.39,74.57 L263.50,74.03 L263.62,73.48 L263.74,72.93 L263.86,72.39 L263.98,71.84 L264.11,71.29 L264.23,70.75 L264.36,70.20 L264.49,69.66 L264.61,69.11 L264.75,68.56 L264.88,68.02 L265.01,67.47 L265.15,66.93 L265.29,66.38 L265.43,65.83 L265.57,65.29 L265.71,64.74 L265.86,64.19 L266.00,63.65 L266.15,63.10 L266.30,62.56 L266.46,62.01 L266.61,61.46 L266.77,60.92 L266.93,60.37 L267.09,59.83 L267.26,59.28 L267.43,58.73 L267.60,58.19 L267.77,57.64 L267.94,57.10 L268.12,56.55 L268.30,56.00 L268.49,55.46 L268.67,54.91 L268.86,54.36 L269.06,53.82 L269.25,53.27 L269.45,52.73 L269.66,52.18 L269.86,51.63 L270.07,51.09 L270.29,50.54 L270.51,50.00 L270.73,49.45 L270.96,48.90 L271.19,48.36 L271.42,47.81 L271.66,47.26 L271.91,46.72 L272.16,46.17 L272.41,45.63 L272.68,45.08 L272.94,44.53 L273.21,43.99 L273.49,43.44 L273.78,42.90 L274.07,42.35 L274.37,41.80 L274.67,41.26 L274.99,40.71 L275.31,40.16 L275.64,39.62 L275.97,39.07 L276.32,38.53 L276.67,37.98 L277.04,37.43 L277.41,36.89 L277.80,36.34 L278.20,35.80 L278.61,35.25 L279.03,34.70 L279.47,34.16 L279.91,33.61 L280.38,33.06 L280.86,32.52 L281.36,31.97 L281.87,31.43 L282.41,30.88 L282.96,30.33 L283.54,29.79 L284.14,29.24 L284.76,28.70 L285.41,28.15 L286.09,27.60 L286.80,27.06 L287.55,26.51 L288.33,25.96 L289.16,25.42 L290.02,24.87 L290.94,24.33 L291.91,23.78 L292.95,23.23 L294.04,22.69 L295.22,22.14 L296.48,21.60 L297.83,21.05 L299.30,20.50 L300.90,19.96 L302.64,19.41 L304.56,18.86 L306.70,18.32 L309.09,17.77 L311.80,17.23 L314.91,16.68 L318.55,16.13 L322.90,15.59 L323.36,15.54 L323.81,15.49 L324.26,15.44 L324.71,15.39 L325.17,15.34 L325.62,15.30 L326.07,15.25 L326.52,15.21 L326.97,15.16 L327.43,15.12 L327.88,15.08 L328.33,15.04 L328.78,14.99 L329.24,14.95 L329.69,14.92 L330.14,14.88 L330.59,14.84 L331.04,14.80 L331.50,14.77 L331.95,14.73 L332.40,14.70 L332.85,14.66 L333.31,14.63 L333.76,14.59 L334.21,14.56 L334.66,14.53 L335.12,14.50 L335.57,14.47 L336.02,14.44 L336.47,14.41 L336.92,14.38 L337.38,14.35 L337.83,14.32 L338.28,14.29 L338.73,14.26 L339.19,14.24 L339.64,14.21 L340.09,14.18 L340.54,14.16 L340.99,14.13 L341.45,14.11 L341.90,14.08 L342.35,14.06 L342.80,14.04 L343.26,14.01 L343.71,13.99 L344.16,13.97 L344.61,13.95 L345.06,13.92 L345.52,13.90 L345.97,13.88 L346.42,13.86 L346.87,13.84 L347.33,13.82 L347.78,13.80 L348.23,13.78 L348.68,13.76 L349.13,13.74 L349.59,13.73 L350.04,13.71 L350.49,13.69 L350.94,13.67 L351.40,13.65 L351.85,13.64 L352.30,13.62 L352.75,13.60 L353.21,13.59 L353.66,13.57 L354.11,13.56 L354.56,13.54 L355.01,13.52 L355.47,13.51 L355.92,13.49 L356.37,13.48 L356.82,13.47 L357.28,13.45 L357.73,13.44 L358.18,13.42 L358.63,13.41 L359.08,13.40 L359.54,13.38 L359.99,13.37 L360.44,13.36 L360.89,13.35 L361.35,13.33 L361.80,13.32 L362.25,13.31 L362.70,13.30 L363.15,13.28 L363.61,13.27 L364.06,13.26 L364.51,13.25 L364.96,13.24 L365.42,13.23 L365.87,13.22 L366.32,13.21 L366.77,13.20 L367.23,13.19 L367.68,13.18 L368.13,13.17 L368.58,13.16 L369.03,13.15 L369.49,13.14 L369.94,13.13 L370.39,13.12 L370.84,13.11 L371.30,13.10 L371.75,13.09 L372.20,13.08 L372.65,13.07 L373.10,13.07 L373.56,13.06 L374.01,13.05 L374.46,13.04 L374.91,13.03 L375.37,13.02 L375.82,13.02 L376.27,13.01 L376.72,13.00 L377.17,12.99 L377.63,12.99 L378.08,12.98 L378.53,12.97 L378.98,12.96 L379.44,12.96 L379.89,12.95 L380.34,12.94 L380.79,12.94 L381.24,12.93 L381.70,12.92 L382.15,12.92 L382.60,12.91 L383.05,12.90 L383.51,12.90 L383.96,12.89 L384.41,12.88 L384.86,12.88 L385.32,12.87 L385.77,12.87 L386.22,12.86 L386.67,12.85 L387.12,12.85 L387.58,12.84 L388.03,12.84 L388.48,12.83 L388.93,12.83 L389.39,12.82 L389.84,12.82 L390.29,12.81 L390.74,12.80 L391.19,12.80 L391.65,12.79 L392.10,12.79 L392.55,12.78 L393.00,12.78 L393.46,12.78 L393.91,12.77 L394.36,12.77 L394.81,12.76 L395.26,12.76 L395.72,12.75 L396.17,12.75 L396.62,12.74 L397.07,12.74 L397.53,12.73 L397.98,12.73 L398.43,12.73 L398.88,12.72 L399.34,12.72 L399.79,12.71 L400.24,12.71 L400.69,12.71 L401.14,12.70 L401.60,12.70 L402.05,12.69 L402.50,12.69 L402.95,12.69 L403.41,12.68 L403.86,12.68 L404.31,12.68 L404.76,12.67 L405.21,12.67 L405.67,12.67 L406.12,12.66 L406.57,12.66 L407.02,12.65 L407.48,12.65 L407.93,12.65 L408.38,12.64 L408.83,12.64 L409.28,12.64 L409.74,12.64 L410.19,12.63 L410.64,12.63 L411.09,12.63 L411.55,12.62 L412.00,12.62 L412.45,12.62 L412.90,12.61 L413.35,12.61 L413.81,12.61 L414.26,12.61 L414.71,12.60 L415.16,12.60 L415.62,12.60 L416.07,12.59 L416.52,12.59 L416.97,12.59 L417.43,12.59 L417.88,12.58 L418.33,12.58 L418.78,12.58 L419.23,12.58 L419.69,12.57 L420.14,12.57 L420.59,12.57 L421.04,12.57 L421.50,12.56 L421.95,12.56 L422.40,12.56 L422.85,12.56 L423.30,12.56 L423.76,12.55 L424.21,12.55 L424.66,12.55 L425.11,12.55 L425.57,12.54 L426.02,12.54 L426.47,12.54 L426.92,12.54 L427.37,12.54 L427.83,12.53 L428.28,12.53 L428.73,12.53 L429.18,12.53 L429.64,12.53 L430.09,12.52 L430.54,12.52 L430.99,12.52 L431.45,12.52 L431.90,12.52 L432.35,12.52 L432.80,12.51 L433.25,12.51 L433.71,12.51 L434.16,12.51 L434.61,12.51 L435.06,12.50 L435.52,12.50 L435.97,12.50 L436.42,12.50 L436.87,12.50 L437.32,12.50 L437.78,12.49 L438.23,12.49 L438.68,12.49 L439.13,12.49 L439.59,12.49 L440.04,12.49 L440.49,12.49 L440.94,12.48 L441.39,12.48 L441.85,12.48 L442.30,12.48 L442.75,12.48 L443.20,12.48 L443.66,12.47 L444.11,12.47 L444.56,12.47 L445.01,12.47 L445.46,12.47 L445.92,12.47 L446.37,12.47 L446.82,12.47 L447.27,12.46 L447.73,12.46 L448.18,12.46 L448.63,12.46 L449.08,12.46 L449.54,12.46 L449.99,12.46 L450.44,12.45 L450.89,12.45 L451.34,12.45 L451.80,12.45 L452.25,12.45 L452.70,12.45 L453.15,12.45 L453.61,12.45 L454.06,12.45 L454.51,12.44 L454.96,12.44 L455.41,12.44 L455.87,12.44 L456.32,12.44 L456.77,12.44 L457.22,12.44 L457.68,12.44 L458.13,12.44" stroke="#FF783C" stroke-dasharray="4.31 2.155 8.23 2.155" stroke-dashoffset="14.7"/>
<path d="M267.72,233.50 L267.74,232.95 L267.76,232.41 L267.78,231.86 L267.81,231.32 L267.83,230.77 L267.85,230.22 L267.87,229.68 L267.90,229.13 L267.92,228.58 L267.94,228.04 L267.96,227.49 L267.99,226.95 L268.01,226.40 L268.03,225.85 L268.05,225.31 L268.08,224.76 L268.10,224.22 L268.12,223.67 L268.15,223.12 L268.17,222.58 L268.19,222.03 L268.22,221.48 L268.24,220.94 L268.27,220.39 L268.29,219.85 L268.31,219.30 L268.34,218.75 L268.36,218.21 L268.39,217.66 L268.41,217.12 L268.43,216.57 L268.46,216.02 L268.48,215.48 L268.51,214.93 L268.53,214.38 L268.56,213.84 L268.58,213.29 L268.61,212.75 L268.63,212.20 L268.66,211.65 L268.68,211.11 L268.71,210.56 L268.73,210.02 L268.76,209.47 L268.79,208.92 L268.81,208.38 L268.84,207.83 L268.86,207.29 L268.89,206.74 L268.92,206.19 L268.94,205.65 L268.97,205.10 L268.99,204.55 L269.02,204.01 L269.05,203.46 L269.07,202.92 L269.10,202.37 L269.13,201.82 L269.16,201.28 L269.18,200.73 L269.21,200.19 L269.24,199.64 L269.26,199.09 L269.29,198.55 L269.32,198.00 L269.35,197.45 L269.38,196.91 L269.40,196.36 L269.43,195.82 L269.46,195.27 L269.49,194.72 L269.52,194.18 L269.55,193.63 L269.57,193.09 L269.60,192.54 L269.63,191.99 L269.66,191.45 L269.69,190.90 L269.72,190.35 L269.75,189.81 L269.78,189.26 L269.81,188.72 L269.84,188.17 L269.87,187.62 L269.90,187.08 L269.93,186.53 L269.96,185.99 L269.99,185.44 L270.02,184.89 L270.05,184.35 L270.08,183.80 L270.11,183.25 L270.14,182.71 L270.18,182.16 L270.21,181.62 L270.24,181.07 L270.27,180.52 L270.30,179.98 L270.33,179.43 L270.37,178.89 L270.40,178.34 L270.43,177.79 L270.46,177.25 L270.50,176.70 L270.53,176.15 L270.56,175.61 L270.59,175.06 L270.63,174.52 L270.66,173.97 L270.69,173.42 L270.73,172.88 L270.76,172.33 L270.80,171.79 L270.83,171.24 L270.86,170.69 L270.90,170.15 L270.93,169.60 L270.97,169.05 L271.00,168.51 L271.04,167.96 L271.07,167.42 L271.11,166.87 L271.15,166.32 L271.18,165.78 L271.22,165.23 L271.25,164.69 L271.29,164.14 L271.33,163.59 L271.36,163.05 L271.40,162.50 L271.44,161.95 L271.47,161.41 L271.51,160.86 L271.55,160.32 L271.59,159.77 L271.62,159.22 L271.66,158.68 L271.70,158.13 L271.74,157.59 L271.78,157.04 L271.82,156.49 L271.86,155.95 L271.90,155.40 L271.94,154.86 L271.98,154.31 L272.02,153.76 L272.06,153.22 L272.10,152.67 L272.14,152.12 L272.18,151.58 L272.22,151.03 L272.26,150.49 L272.30,149.94 L272.34,149.39 L272.38,148.85 L272.43,148.30 L272.47,147.76 L272.51,147.21 L272.55,146.66 L272.60,146.12 L272.64,145.57 L272.68,145.02 L272.73,144.48 L272.77,143.93 L272.82,143.39 L272.86,142.84 L272.91,142.29 L272.95,141.75 L273.00,141.20 L273.04,140.66 L273.09,140.11 L273.13,139.56 L273.18,139.02 L273.23,138.47 L273.27,137.92 L273.32,137.38 L273.37,136.83 L273.42,136.29 L273.46,135.74 L273.51,135.19 L273.56,134.65 L273.61,134.10 L273.66,133.56 L273.71,133.01 L273.76,132.46 L273.81,131.92 L273.86,131.37 L273.91,130.82 L273.96,130.28 L274.01,129.73 L274.06,129.19 L274.11,128.64 L274.17,128.09 L274.22,127.55 L274.27,127.00 L274.33,126.46 L274.38,125.91 L274.43,125.36 L274.49,124.82 L274.54,124.27 L274.60,123.72 L274.65,123.18 L274.71,122.63 L274.76,122.09 L274.82,121.54 L274.88,120.99 L274.94,120.45 L274.99,119.90 L275.05,119.36 L275.11,118.81 L275.17,118.26 L275.23,117.72 L275.29,117.17 L275.35,116.62 L275.41,116.08 L275.47,115.53 L275.53,114.99 L275.59,114.44 L275.65,113.89 L275.72,113.35 L275.78,112.80 L275.84,112.26 L275.91,111.71 L275.97,111.16 L276.04,110.62 L276.10,110.07 L276.17,109.53 L276.24,108.98 L276.30,108.43 L276.37,107.89 L276.44,107.34 L276.51,106.79 L276.58,106.25 L276.65,105.70 L276.72,105.16 L276.79,104.61 L276.86,104.06 L276.93,103.52 L277.00,102.97 L277.08,102.43 L277.15,101.88 L277.22,101.33 L277.30,100.79 L277.37,100.24 L277.45,99.69 L277.53,99.15 L277.60,98.60 L277.68,98.06 L277.76,97.51 L277.84,96.96 L277.92,96.42 L278.00,95.87 L278.08,95.33 L278.17,94.78 L278.25,94.23 L278.33,93.69 L278.42,93.14 L278.50,92.59 L278.59,92.05 L278.67,91.50 L278.76,90.96 L278.85,90.41 L278.94,89.86 L279.03,89.32 L279.12,88.77 L279.21,88.23 L279.31,87.68 L279.40,87.13 L279.49,86.59 L279.59,86.04 L279.69,85.49 L279.78,84.95 L279.88,84.40 L279.98,83.86 L280.08,83.31 L280.18,82.76 L280.29,82.22 L280.39,81.67 L280.49,81.13 L280.60,80.58 L280.71,80.03 L280.81,79.49 L280.92,78.94 L281.03,78.39 L281.14,77.85 L281.26,77.30 L281.37,76.76 L281.49,76.21 L281.60,75.66 L281.72,75.12 L281.84,74.57 L281.96,74.03 L282.08,73.48 L282.21,72.93 L282.33,72.39 L282.46,71.84 L282.59,71.29 L282.72,70.75 L282.85,70.20 L282.98,69.66 L283.12,69.11 L283.26,68.56 L283.39,68.02 L283.53,67.47 L283.68,66.93 L283.82,66.38 L283.97,65.83 L284.11,65.29 L284.26,64.74 L284.42,64.19 L284.57,63.65 L284.73,63.10 L284.89,62.56 L285.05,62.01 L285.21,61.46 L285.38,60.92 L285.54,60.37 L285.71,59.83 L285.89,59.28 L286.06,58.73 L286.24,58.19 L286.42,57.64 L286.61,57.10 L286.80,56.55 L286.99,56.00 L287.18,55.46 L287.38,54.91 L287.58,54.36 L287.78,53.82 L287.99,53.27 L288.20,52.73 L288.42,52.18 L288.64,51.63 L288.86,51.09 L289.09,50.54 L289.32,50.00 L289.55,49.45 L289.79,48.90 L290.04,48.36 L290.29,47.81 L290.55,47.26 L290.81,46.72 L291.07,46.17 L291.35,45.63 L291.62,45.08 L291.91,44.53 L292.20,43.99 L292.50,43.44 L292.80,42.90 L293.11,42.35 L293.43,41.80 L293.76,41.26 L294.10,40.71 L294.44,40.16 L294.79,39.62 L295.15,39.07 L295.53,38.53 L295.91,37.98 L296.30,37.43 L296.71,36.89 L297.12,36.34 L297.55,35.80 L298.00,35.25 L298.45,34.70 L298.92,34.16 L299.41,33.61 L299.92,33.06 L300.44,32.52 L300.98,31.97 L301.54,31.43 L302.12,30.88 L302.72,30.33 L303.35,29.79 L304.01,29.24 L304.69,28.70 L305.41,28.15 L306.15,27.60 L306.93,27.06 L307.76,26.51 L308.62,25.96 L309.53,25.42 L310.49,24.87 L311.50,24.33 L312.58,23.78 L313.73,23.23 L314.95,22.69 L316.26,22.14 L317.67,21.60 L319.18,21.05 L320.83,20.50 L322.62,19.96 L324.59,19.41 L326.76,18.86 L329.18,18.32 L331.90,17.77 L334.99,17.23 L338.55,16.68 L342.74,16.13 L347.76,15.59 L348.13,15.55 L348.50,15.52 L348.87,15.48 L349.24,15.45 L349.61,15.41 L349.97,15.38 L350.34,15.35 L350.71,15.31 L351.08,15.28 L351.45,15.25 L351.82,15.22 L352.19,15.19 L352.56,15.16 L352.93,15.13 L353.30,15.10 L353.67,15.07 L354.03,15.04 L354.40,15.01 L354.77,14.98 L355.14,14.95 L355.51,14.93 L355.88,14.90 L356.25,14.87 L356.62,14.84 L356.99,14.82 L357.36,14.79 L357.73,14.77 L358.10,14.74 L358.46,14.72 L358.83,14.69 L359.20,14.67 L359.57,14.65 L359.94,14.62 L360.31,14.60 L360.68,14.58 L361.05,14.55 L361.42,14.53 L361.79,14.51 L362.16,14.49 L362.52,14.47 L362.89,14.44 L363.26,14.42 L363.63,14.40 L364.00,14.38 L364.37,14.36 L364.74,14.34 L365.11,14.32 L365.48,14.30 L365.85,14.28 L366.22,14.26 L366.59,14.25 L366.95,14.23 L367.32,14.21 L367.69,14.19 L368.06,14.17 L368.43,14.15 L368.80,14.14 L369.17,14.12 L369.54,14.10 L369.91,14.09 L370.28,14.07 L370.65,14.05 L371.01,14.04 L371.38,14.02 L371.75,14.00 L372.12,13.99 L372.49,13.97 L372.86,13.96 L373.23,13.94 L373.60,13.93 L373.97,13.91 L374.34,13.90 L374.71,13.88 L375.07,13.87 L375.44,13.86 L375.81,13.84 L376.18,13.83 L376.55,13.81 L376.92,13.80 L377.29,13.79 L377.66,13.77 L378.03,13.76 L378.40,13.75 L378.77,13.74 L379.14,13.72 L379.50,13.71 L379.87,13.70 L380.24,13.69 L380.61,13.67 L380.98,13.66 L381.35,13.65 L381.72,13.64 L382.09,13.63 L382.46,13.61 L382.83,13.60 L383.20,13.59 L383.56,13.58 L383.93,13.57 L384.30,13.56 L384.67,13.55 L385.04,13.54 L385.41,13.53 L385.78,13.52 L386.15,13.51 L386.52,13.50 L386.89,13.49 L387.26,13.48 L387.63,13.47 L387.99,13.46 L388.36,13.45 L388.73,13.44 L389.10,13.43 L389.47,13.42 L389.84,13.41 L390.21,13.40 L390.58,13.39 L390.95,13.38 L391.32,13.37 L391.69,13.36 L392.05,13.36 L392.42,13.35 L392.79,13.34 L393.16,13.33 L393.53,13.32 L393.90,13.31 L394.27,13.31 L394.64,13.30 L395.01,13.29 L395.38,13.28 L395.75,13.27 L396.12,13.27 L396.48,13.26 L396.85,13.25 L397.22,13.24 L397.59,13.24 L397.96,13.23 L398.33,13.22 L398.70,13.21 L399.07,13.21 L399.44,13.20 L399.81,13.19 L400.18,13.19 L400.54,13.18 L400.91,13.17 L401.28,13.16 L401.65,13.16 L402.02,13.15 L402.39,13.15 L402.76,13.14 L403.13,13.13 L403.50,13.13 L403.87,13.12 L404.24,13.11 L404.60,13.11 L404.97,13.10 L405.34,13.09 L405.71,13.09 L406.08,13.08 L406.45,13.08 L406.82,13.07 L407.19,13.07 L407.56,13.06 L407.93,13.05 L408.30,13.05 L408.67,13.04 L409.03,13.04 L409.40,13.03 L409.77,13.03 L410.14,13.02 L410.51,13.02 L410.88,13.01 L411.25,13.00 L411.62,13.00 L411.99,12.99 L412.36,12.99 L412.73,12.98 L413.09,12.98 L413.46,12.97 L413.83,12.97 L414.20,12.96 L414.57,12.96 L414.94,12.95 L415.31,12.95 L415.68,12.95 L416.05,12.94 L416.42,12.94 L416.79,12.93 L417.16,12.93 L417.52,12.92 L417.89,12.92 L418.26,12.91 L418.63,12.91 L419.00,12.90 L419.37,12.90 L419.74,12.90 L420.11,12.89 L420.48,12.89 L420.85,12.88 L421.22,12.88 L421.58,12.88 L421.95,12.87 L422.32,12.87 L422.69,12.86 L423.06,12.86 L423.43,12.86 L423.80,12.85 L424.17,12.85 L424.54,12.84 L424.91,12.84 L425.28,12.84 L425.65,12.83 L426.01,12.83 L426.38,12.83 L426.75,12.82 L427.12,12.82 L427.49,12.82 L427.86,12.81 L428.23,12.81 L428.60,12.80 L428.97,12.80 L429.34,12.80 L429.71,12.79 L430.07,12.79 L430.44,12.79 L430.81,12.78 L431.18,12.78 L431.55,12.78 L431.92,12.77 L432.29,12.77 L432.66,12.77 L433.03,12.77 L433.40,12.76 L433.77,12.76 L434.13,12.76 L434.50,12.75 L434.87,12.75 L435.24,12.75 L435.61,12.74 L435.98,12.74 L436.35,12.74 L436.72,12.74 L437.09,12.73 L437.46,12.73 L437.83,12.73 L438.20,12.72 L438.56,12.72 L438.93,12.72 L439.30,12.72 L439.67,12.71 L440.04,12.71 L440.41,12.71 L440.78,12.71 L441.15,12.70 L441.52,12.70 L441.89,12.70 L442.26,12.70 L442.62,12.69 L442.99,12.69 L443.36,12.69 L443.73,12.69 L444.10,12.68 L444.47,12.68 L444.84,12.68 L445.21,12.68 L445.58,12.67 L445.95,12.67 L446.32,12.67 L446.69,12.67 L447.05,12.66 L447.42,12.66 L447.79,12.66 L448.16,12.66 L448.53,12.65 L448.90,12.65 L449.27,12.65 L449.64,12.65 L450.01,12.65 L450.38,12.64 L450.75,12.64 L451.11,12.64 L451.48,12.64 L451.85,12.64 L452.22,12.63 L452.59,12.63 L452.96,12.63 L453.33,12.63 L453.70,12.63 L454.07,12.62 L454.44,12.62 L454.81,12.62 L455.18,12.62 L455.54,12.62 L455.91,12.61 L456.28,12.61 L456.65,12.61 L457.02,12.61 L457.39,12.61 L457.76,12.60 L458.13,12.60" stroke="#BE507D" stroke-dasharray="12.1 2.9" stroke-dashoffset="0.875"/>
</g>
<rect x="81.5" y="1.3" width="373.5" height="230.7" fill="none" stroke="#222" stroke-width="1"/>
<path d="M81.50,232.0v-4.5M81.50,1.3v4.5M100.17,232.0v-2.9M100.17,1.3v2.9M118.85,232.0v-2.9M118.85,1.3v2.9M137.53,232.0v-2.9M137.53,1.3v2.9M156.20,232.0v-2.9M156.20,1.3v2.9M174.88,232.0v-4.5M174.88,1.3v4.5M193.55,232.0v-2.9M193.55,1.3v2.9M212.22,232.0v-2.9M212.22,1.3v2.9M230.90,232.0v-2.9M230.90,1.3v2.9M249.58,232.0v-2.9M249.58,1.3v2.9M268.25,232.0v-4.5M268.25,1.3v4.5M286.93,232.0v-2.9M286.93,1.3v2.9M305.60,232.0v-2.9M305.60,1.3v2.9M324.27,232.0v-2.9M324.27,1.3v2.9M342.95,232.0v-2.9M342.95,1.3v2.9M361.62,232.0v-4.5M361.62,1.3v4.5M380.30,232.0v-2.9M380.30,1.3v2.9M398.97,232.0v-2.9M398.97,1.3v2.9M417.65,232.0v-2.9M417.65,1.3v2.9M436.32,232.0v-2.9M436.32,1.3v2.9M455.00,232.0v-4.5M455.00,1.3v4.5M81.5,232.00h4.5M455.0,232.00h-4.5M81.5,221.02h2.9M455.0,221.02h-2.9M81.5,210.03h2.9M455.0,210.03h-2.9M81.5,199.05h2.9M455.0,199.05h-2.9M81.5,188.06h2.9M455.0,188.06h-2.9M81.5,177.08h4.5M455.0,177.08h-4.5M81.5,166.09h2.9M455.0,166.09h-2.9M81.5,155.11h2.9M455.0,155.11h-2.9M81.5,144.12h2.9M455.0,144.12h-2.9M81.5,133.14h2.9M455.0,133.14h-2.9M81.5,122.15h4.5M455.0,122.15h-4.5M81.5,111.17h2.9M455.0,111.17h-2.9M81.5,100.18h2.9M455.0,100.18h-2.9M81.5,89.19h2.9M455.0,89.19h-2.9M81.5,78.21h2.9M455.0,78.21h-2.9M81.5,67.23h4.5M455.0,67.23h-4.5M81.5,56.24h2.9M455.0,56.24h-2.9M81.5,45.25h2.9M455.0,45.25h-2.9M81.5,34.27h2.9M455.0,34.27h-2.9M81.5,23.29h2.9M455.0,23.29h-2.9M81.5,12.30h4.5M455.0,12.30h-4.5M81.5,1.32h2.9M455.0,1.32h-2.9" stroke="#333" stroke-width="0.9" fill="none"/>
<line x1="305.1" y1="50.6" x2="356.6" y2="50.6" stroke="#5B7FD4" stroke-width="3"/>
<line x1="305.1" y1="82.4" x2="354.9" y2="82.4" stroke="#E64B2D" stroke-width="3" stroke-dasharray="8.2 2.15"/>
<line x1="305.1" y1="114.1" x2="355.3" y2="114.1" stroke="#05AA19" stroke-width="3" stroke-dasharray="4.3 2.17"/>
<line x1="305.1" y1="145.9" x2="353.6" y2="145.9" stroke="#FF783C" stroke-width="3" stroke-dasharray="4.3 2.15 8.2 2.15"/>
<line x1="305.1" y1="177.5" x2="354.3" y2="177.5" stroke="#BE507D" stroke-width="3" stroke-dasharray="13.9 3.6"/>
</svg>
<div class="t yl" style="left:17.60px;top:7.30px">0</div>
<div class="t yl" style="left:17.60px;top:62.23px">−50</div>
<div class="t yl" style="left:17.60px;top:117.15px">−100</div>
<div class="t yl" style="left:17.60px;top:172.08px">−150</div>
<div class="t yl" style="left:17.60px;top:227.00px">−200</div>
<div class="t xl" style="left:61.70px;top:236.3px">0.0</div>
<div class="t xl" style="left:155.07px;top:236.3px">0.5</div>
<div class="t xl" style="left:248.45px;top:236.3px">1.0</div>
<div class="t xl" style="left:341.82px;top:236.3px">1.5</div>
<div class="t xl" style="left:435.20px;top:236.3px">2.0</div>
<div class="t" style="left:364.70px;top:44.08px;font-size:14px;font-style:italic;transform:scale(1,1.05);transform-origin:0 83.75%;transform-origin:0 45%;">q</div>
<div class="t" style="left:372.20px;top:47.68px;font-size:14px;font-style:italic;transform:scale(1.45,1.4);transform-origin:0 83.75%;">/</div>
<div class="t" style="left:378.90px;top:44.08px;font-size:14px;font-style:italic;transform:scale(1.15,1);transform-origin:0 83.75%;">r</div>
<div class="t" style="left:385.00px;top:49.45px;font-size:11.4px;font-style:italic;transform:scale(1.2,1);transform-origin:0 83.75%;">h</div>
<div class="t" style="left:399.30px;top:45.78px;font-size:14px;transform:scale(1.25,0.85);transform-origin:0 83.75%;transform-origin:0 50%;-webkit-text-stroke:0.15px #111;">=</div>
<div class="t" style="left:417.90px;top:43.52px;font-size:14.9px;letter-spacing:0.15px;">0.01</div>
<div class="t" style="left:364.70px;top:75.88px;font-size:14px;font-style:italic;transform:scale(1,1.05);transform-origin:0 83.75%;transform-origin:0 45%;">q</div>
<div class="t" style="left:372.20px;top:79.48px;font-size:14px;font-style:italic;transform:scale(1.45,1.4);transform-origin:0 83.75%;">/</div>
<div class="t" style="left:378.90px;top:75.88px;font-size:14px;font-style:italic;transform:scale(1.15,1);transform-origin:0 83.75%;">r</div>
<div class="t" style="left:385.00px;top:81.25px;font-size:11.4px;font-style:italic;transform:scale(1.2,1);transform-origin:0 83.75%;">h</div>
<div class="t" style="left:399.30px;top:77.58px;font-size:14px;transform:scale(1.25,0.85);transform-origin:0 83.75%;transform-origin:0 50%;-webkit-text-stroke:0.15px #111;">=</div>
<div class="t" style="left:417.90px;top:75.32px;font-size:14.9px;letter-spacing:0.15px;">0.5</div>
<div class="t" style="left:364.70px;top:107.58px;font-size:14px;font-style:italic;transform:scale(1,1.05);transform-origin:0 83.75%;transform-origin:0 45%;">q</div>
<div class="t" style="left:372.20px;top:111.17px;font-size:14px;font-style:italic;transform:scale(1.45,1.4);transform-origin:0 83.75%;">/</div>
<div class="t" style="left:378.90px;top:107.58px;font-size:14px;font-style:italic;transform:scale(1.15,1);transform-origin:0 83.75%;">r</div>
<div class="t" style="left:385.00px;top:112.95px;font-size:11.4px;font-style:italic;transform:scale(1.2,1);transform-origin:0 83.75%;">h</div>
<div class="t" style="left:399.30px;top:109.28px;font-size:14px;transform:scale(1.25,0.85);transform-origin:0 83.75%;transform-origin:0 50%;-webkit-text-stroke:0.15px #111;">=</div>
<div class="t" style="left:417.90px;top:107.02px;font-size:14.9px;letter-spacing:0.15px;">1</div>
<div class="t" style="left:364.70px;top:139.38px;font-size:14px;font-style:italic;transform:scale(1,1.05);transform-origin:0 83.75%;transform-origin:0 45%;">q</div>
<div class="t" style="left:372.20px;top:142.97px;font-size:14px;font-style:italic;transform:scale(1.45,1.4);transform-origin:0 83.75%;">/</div>
<div class="t" style="left:378.90px;top:139.38px;font-size:14px;font-style:italic;transform:scale(1.15,1);transform-origin:0 83.75%;">r</div>
<div class="t" style="left:385.00px;top:144.75px;font-size:11.4px;font-style:italic;transform:scale(1.2,1);transform-origin:0 83.75%;">h</div>
<div class="t" style="left:399.30px;top:141.07px;font-size:14px;transform:scale(1.25,0.85);transform-origin:0 83.75%;transform-origin:0 50%;-webkit-text-stroke:0.15px #111;">=</div>
<div class="t" style="left:417.90px;top:138.82px;font-size:14.9px;letter-spacing:0.15px;">5</div>
<div class="t" style="left:364.70px;top:170.97px;font-size:14px;font-style:italic;transform:scale(1,1.05);transform-origin:0 83.75%;transform-origin:0 45%;">q</div>
<div class="t" style="left:372.20px;top:174.57px;font-size:14px;font-style:italic;transform:scale(1.45,1.4);transform-origin:0 83.75%;">/</div>
<div class="t" style="left:378.90px;top:170.97px;font-size:14px;font-style:italic;transform:scale(1.15,1);transform-origin:0 83.75%;">r</div>
<div class="t" style="left:385.00px;top:176.35px;font-size:11.4px;font-style:italic;transform:scale(1.2,1);transform-origin:0 83.75%;">h</div>
<div class="t" style="left:399.30px;top:172.67px;font-size:14px;transform:scale(1.25,0.85);transform-origin:0 83.75%;transform-origin:0 50%;-webkit-text-stroke:0.15px #111;">=</div>
<div class="t" style="left:417.90px;top:170.42px;font-size:14.9px;letter-spacing:0.15px;">6</div>
<div class="t" style="left:249.20px;top:21.93px;font-size:16.8px;-webkit-text-stroke:0.5px #111;font-style:italic;transform:scale(1.25,0.95);transform-origin:0 83.75%;">r</div>
<div class="t" style="left:257.00px;top:28.72px;font-size:10.6px;-webkit-text-stroke:0.5px #111;font-style:italic;transform:scale(1.2,1);transform-origin:0 83.75%;">h</div>
<div class="t" style="left:1.20px;top:106.16px;font-size:18.8px;-webkit-text-stroke:0.5px #111;font-style:italic;transform:scale(1.3,0.93);transform-origin:0 83.75%;">r</div>
<div class="t" style="left:12.20px;top:104.78px;font-size:11.6px;font-weight:bold;transform:scale(1.05,1.0);transform-origin:0 83.75%;">2</div>
<div class="t" style="left:10.80px;top:116.21px;font-size:13.6px;-webkit-text-stroke:0.5px #111;font-style:italic;transform:scale(1.25,1);transform-origin:0 83.75%;">h</div>
<div class="t" style="left:23.90px;top:106.25px;font-size:18.8px;-webkit-text-stroke:0.5px #111;font-style:italic;transform:scale(1.15,1);transform-origin:0 83.75%;">V</div>
<div class="t" style="left:248.40px;top:258.65px;font-size:18.8px;-webkit-text-stroke:0.5px #111;font-style:italic;transform:scale(1.3,0.93);transform-origin:0 83.75%;">r</div>
<div class="t" style="left:260.80px;top:263.06px;font-size:18.8px;-webkit-text-stroke:0.5px #111;font-style:italic;transform:scale(1.15,1.32);transform-origin:0 83.75%;">/</div>
<div class="t" style="left:268.10px;top:258.65px;font-size:18.8px;-webkit-text-stroke:0.5px #111;font-style:italic;transform:scale(1.3,0.93);transform-origin:0 83.75%;">r</div>
<div class="t" style="left:278.80px;top:266.01px;font-size:13.6px;-webkit-text-stroke:0.5px #111;font-style:italic;transform:scale(1.25,1);transform-origin:0 83.75%;">h</div>
</div></body></html>
